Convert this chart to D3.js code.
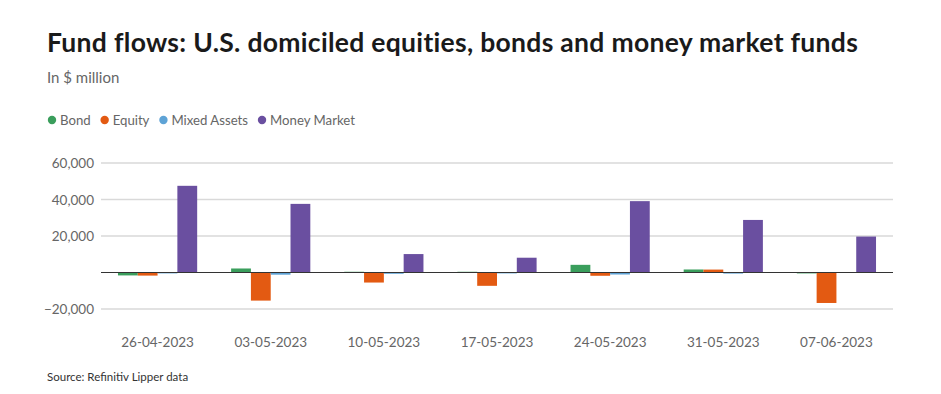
<!DOCTYPE html>
<html>
<head>
<meta charset="utf-8">
<script src="https://cdn.jsdelivr.net/npm/d3@7"></script>
<style>
  body { margin: 0; background: #fff; }
  text { font-family: "Lato", "Noto Sans", sans-serif; }
</style>
</head>
<body>
<div id="chart"></div>
<script>
const dates = ["26-04-2023", "03-05-2023", "10-05-2023", "17-05-2023", "24-05-2023", "31-05-2023", "07-06-2023"];
const seriesNames = ["Bond", "Equity", "Mixed Assets", "Money Market"];
const bond = [-1600, 2200, 400, 400, 4200, 1650, -500];
const equity = [-1700, -15400, -5500, -7300, -1800, 1600, -16700];
const mixed = [-500, -1200, -700, -500, -1100, -600, -200];
const money = [47500, 37600, 10100, 8100, 39100, 28800, 19700];
const yTicks = [-20000, 0, 20000, 40000, 60000];
const colors = ["#3a9e5c", "#e35a12", "#5ea3d6", "#6a4fa0"];

const series = [bond, equity, mixed, money];

const width = 941, height = 394;
const margin = {left: 101, right: 48, top: 163, bottom: 86};

const svg = d3.select("#chart").append("svg")
    .attr("width", width).attr("height", height);

// title + subtitle
svg.append("text").attr("x", 47).attr("y", 52)
    .text("Fund flows: U.S. domiciled equities, bonds and money market funds")
    .attr("font-size", 26.5).attr("font-weight", 700).attr("fill", "#1a1a1a")
    .attr("letter-spacing", 0.3);

svg.append("text").attr("x", 47).attr("y", 83)
    .text("In $ million").attr("font-size", 15).attr("fill", "#666");

// legend
let lx = 47;
seriesNames.forEach((name, i) => {
  svg.append("circle").attr("cx", lx + 5).attr("cy", 120).attr("r", 4.2).attr("fill", colors[i]);
  const t = svg.append("text").attr("x", lx + 13).attr("y", 125)
      .text(name).attr("font-size", 13.2).attr("fill", "#666");
  lx += 13 + t.node().getComputedTextLength() + 9;
});

const x = d3.scaleBand().domain(dates).range([margin.left, width - margin.right]).paddingInner(0.3).paddingOuter(0.15);
const x1 = d3.scaleBand().domain(seriesNames).range([0, x.bandwidth()]);
const y = d3.scaleLinear().domain([-20000, 60000]).range([309, 163]);

// grid
svg.append("g").selectAll("line").data(yTicks.filter(d => d !== 0)).enter().append("line")
    .attr("x1", margin.left).attr("x2", width - margin.right)
    .attr("y1", d => y(d)).attr("y2", d => y(d))
    .attr("stroke", "#d9d9d9").attr("stroke-width", 1.3);

svg.append("g").selectAll("text").data(yTicks.filter(d => d !== 0)).enter().append("text")
    .attr("x", 94).attr("y", d => y(d) + 5)
    .attr("text-anchor", "end").attr("font-size", 13.5).attr("fill", "#666")
    .text(d => d3.format(",")(d).replace("-", "\u2212"));

// bars
const groups = svg.append("g").selectAll("g").data(dates).enter().append("g")
    .attr("transform", d => `translate(${x(d)},0)`);

groups.selectAll("rect").data((d, i) => series.map((s, k) => ({name: seriesNames[k], value: s[i], k})))
  .enter().append("rect")
    .attr("x", d => x1(d.name))
    .attr("width", x1.bandwidth())
    .attr("y", d => y(Math.max(0, d.value)))
    .attr("height", d => Math.abs(y(d.value) - y(0)))
    .attr("fill", d => colors[d.k]);

// zero line
svg.append("line").attr("x1", margin.left).attr("x2", width - margin.right)
    .attr("y1", y(0)).attr("y2", y(0)).attr("stroke", "#333").attr("stroke-width", 1.2);

// x labels
svg.append("g").selectAll("text").data(dates).enter().append("text")
    .attr("x", d => x(d) + x.bandwidth() / 2).attr("y", 347)
    .attr("text-anchor", "middle").attr("font-size", 13.5).attr("fill", "#666")
    .text(d => d);

svg.append("text").attr("x", 47).attr("y", 381)
    .text("Source: Refinitiv Lipper data").attr("font-size", 11.5).attr("fill", "#333");
</script>
</body>
</html>
